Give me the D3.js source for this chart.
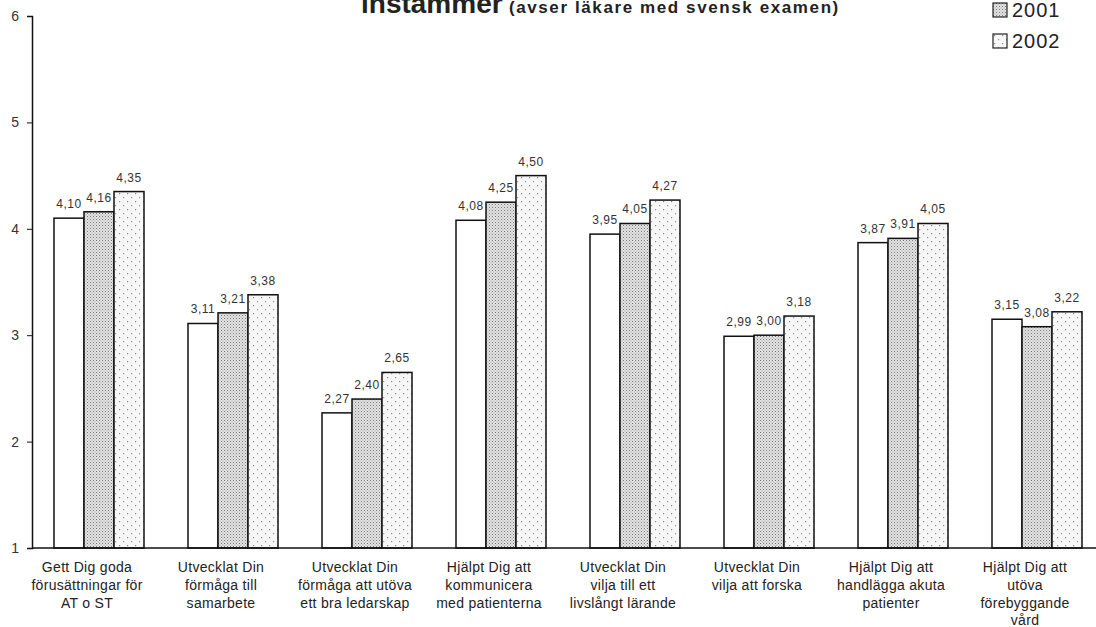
<!DOCTYPE html>
<html>
<head>
<meta charset="utf-8">
<script src="https://cdn.jsdelivr.net/npm/d3@7"></script>
<style>
  body { margin: 0; background: #fff; }
  text { font-family: "Liberation Sans", Arial, sans-serif; fill: #222; }
</style>
</head>
<body>
<div id="chart"></div>
<script>
// ---- data ----
const categories = [
  "Gett Dig goda|förusättningar för|AT o ST",
  "Utvecklat Din|förmåga till|samarbete",
  "Utvecklat Din|förmåga att utöva|ett bra ledarskap",
  "Hjälpt Dig att|kommunicera|med patienterna",
  "Utvecklat Din|vilja till ett|livslångt lärande",
  "Utvecklat Din|vilja att forska",
  "Hjälpt Dig att|handlägga akuta|patienter",
  "Hjälpt Dig att|utöva|förebyggande|vård"
];
const seriesNames = ["2000", "2001", "2002"];
const values2000 = [4.10, 3.11, 2.27, 4.08, 3.95, 2.99, 3.87, 3.15];
const values2001 = [4.16, 3.21, 2.40, 4.25, 4.05, 3.00, 3.91, 3.08];
const values2002 = [4.35, 3.38, 2.65, 4.50, 4.27, 3.18, 4.05, 3.22];
const yTicks = [1, 2, 3, 4, 5, 6];

const W = 1096, H = 627;
const svg = d3.select("#chart").append("svg")
  .attr("width", W).attr("height", H);

// ---- patterns ----
const defs = svg.append("defs");
const dense = defs.append("pattern").attr("id", "dense")
  .attr("patternUnits", "userSpaceOnUse").attr("width", 3).attr("height", 3);
dense.append("rect").attr("width", 3).attr("height", 3).attr("fill", "#e4e4e4");
dense.append("rect").attr("x", 0).attr("y", 0).attr("width", 1).attr("height", 1).attr("fill", "#777");
dense.append("rect").attr("x", 1.5).attr("y", 1.5).attr("width", 1).attr("height", 1).attr("fill", "#999");

const sparse = defs.append("pattern").attr("id", "sparse")
  .attr("patternUnits", "userSpaceOnUse").attr("width", 8).attr("height", 8);
sparse.append("rect").attr("width", 8).attr("height", 8).attr("fill", "#f7f7f7");
sparse.append("rect").attr("x", 1).attr("y", 1).attr("width", 1.2).attr("height", 1.2).attr("fill", "#888");
sparse.append("rect").attr("x", 5).attr("y", 5).attr("width", 1.2).attr("height", 1.2).attr("fill", "#999");

const fills = ["#fff", "url(#dense)", "url(#sparse)"];
const seriesValues = [values2000, values2001, values2002];

// ---- scales ----
const x = d3.scaleBand().domain(categories)
  .range([32, 1104]).paddingInner(44 / 134).paddingOuter(22 / 134);
const xs = d3.scaleBand().domain(seriesNames).range([0, x.bandwidth()]);
const y = d3.scaleLinear().domain([1, 6]).range([548, 16]);

// ---- y axis ----
const yAxis = svg.append("g")
  .attr("transform", "translate(32,0)")
  .call(d3.axisLeft(y).tickValues(yTicks).tickSize(5).tickFormat(d3.format("d")));
yAxis.select(".domain").attr("stroke", "#111").attr("stroke-width", 1.5);
yAxis.selectAll(".tick line").attr("stroke", "#111");
yAxis.selectAll(".tick text").attr("x", -13).style("font-size", "14px").style("fill", "#333");

// ---- bars ----
const groups = svg.selectAll("g.grp").data(categories).enter().append("g")
  .attr("class", "grp")
  .attr("transform", d => `translate(${x(d)},0)`);

groups.each(function (c, i) {
  const g = d3.select(this);
  seriesNames.forEach((s, k) => {
    const v = seriesValues[k][i];
    g.append("rect")
      .attr("x", xs(s))
      .attr("y", y(v))
      .attr("width", xs.bandwidth())
      .attr("height", y(1) - y(v))
      .attr("fill", fills[k])
      .attr("stroke", "#111")
      .attr("stroke-width", 1.5);
    g.append("text")
      .attr("x", xs(s) + xs.bandwidth() / 2)
      .attr("y", y(v) - 10)
      .attr("text-anchor", "middle")
      .style("font-size", "12px")
      .style("letter-spacing", "0.5px")
      .style("fill", "#333")
      .text(v.toFixed(2).replace(".", ","));
  });
});

// ---- x axis line ----
svg.append("line")
  .attr("x1", 32).attr("x2", W).attr("y1", y(1)).attr("y2", y(1))
  .attr("stroke", "#111").attr("stroke-width", 1.5);

// category labels
svg.selectAll("text.cat").data(categories).enter().append("text")
  .attr("class", "cat")
  .attr("text-anchor", "middle")
  .attr("transform", d => `translate(${x(d) + x.bandwidth() / 2 - 12},572)`)
  .style("font-size", "14px")
  .style("letter-spacing", "0.3px")
  .each(function (d) {
    const t = d3.select(this);
    d.split("|").forEach((line, j) => {
      t.append("tspan").attr("x", 0).attr("y", j * 17.8).text(line);
    });
  });

// ---- title (top cropped) ----
const title = svg.append("text")
  .attr("x", 361).attr("y", 13)
  .style("font-weight", "bold");
title.append("tspan").style("font-size", "28px").text("instämmer");
title.append("tspan").style("font-size", "17px").style("letter-spacing", "1.6px")
  .text(" (avser läkare med svensk examen)");

// ---- legend ----
const legend = svg.selectAll("g.leg").data(seriesNames).enter().append("g")
  .attr("class", "leg")
  .attr("transform", (d, k) => `translate(993,${-28 + k * 31})`);
legend.append("rect")
  .attr("width", 14).attr("height", 14)
  .attr("fill", (d, k) => fills[k])
  .attr("stroke", "#222").attr("stroke-width", 1.2);
legend.append("text")
  .attr("x", 19).attr("y", 14)
  .style("font-size", "20px")
  .style("letter-spacing", "1px")
  .text(d => d);
</script>
</body>
</html>
